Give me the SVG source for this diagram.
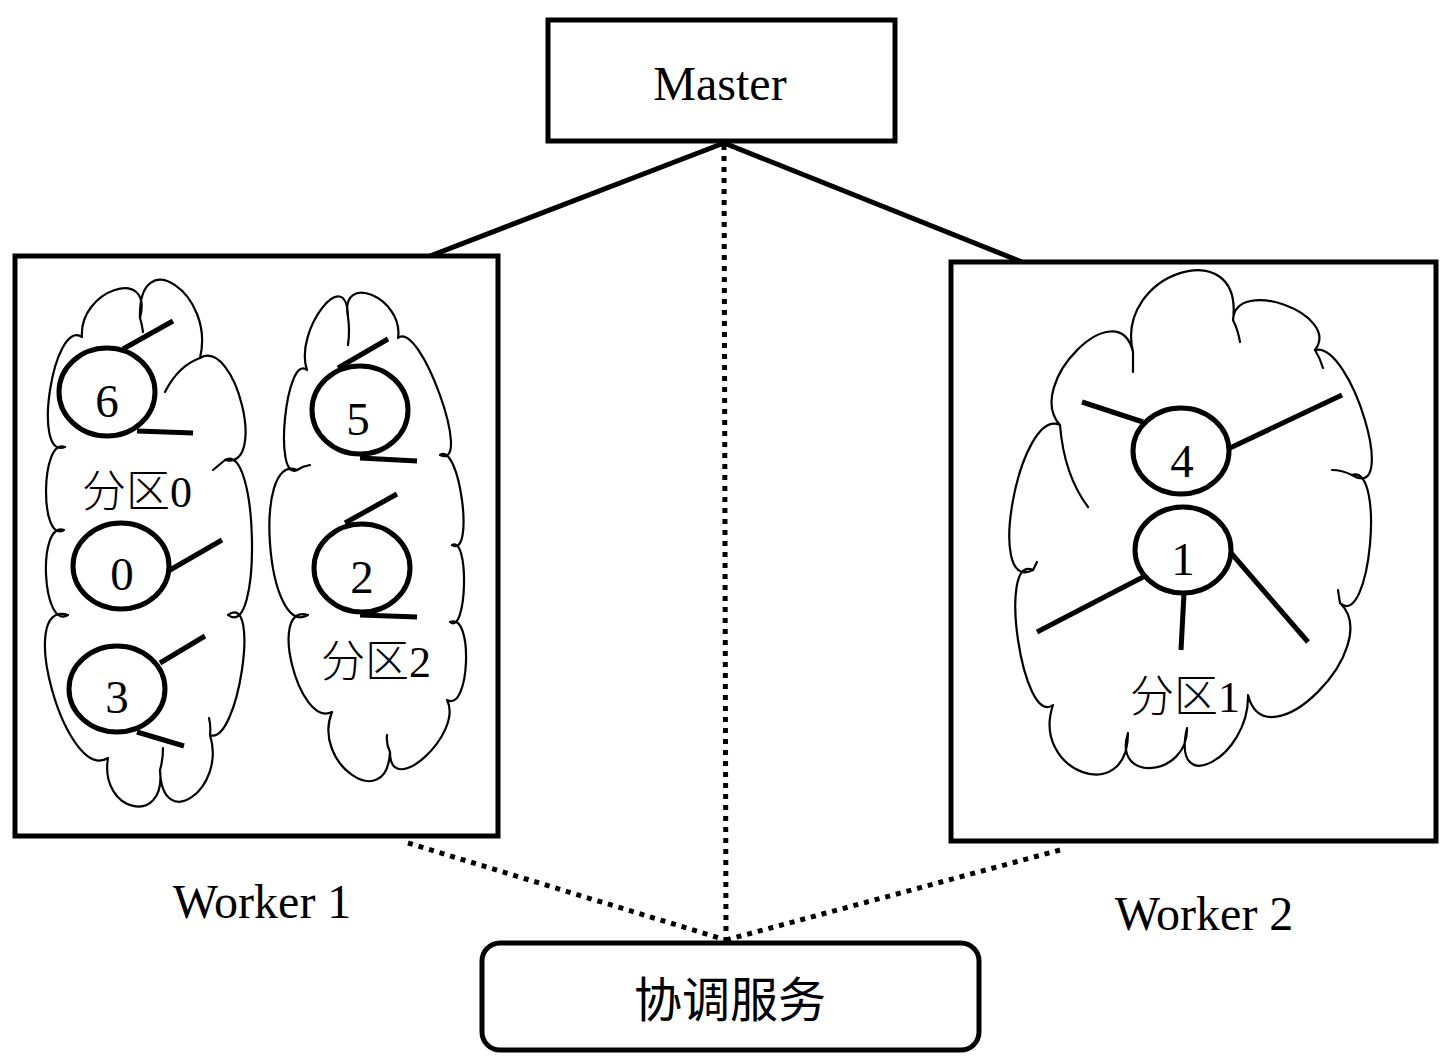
<svg xmlns="http://www.w3.org/2000/svg" width="1445" height="1057" viewBox="0 0 1445 1057">
<style>
.box{fill:#fff;stroke:#000;stroke-width:5}
.cloud{fill:#fff;stroke:#000;stroke-width:2.2;stroke-linejoin:round}
.tail{fill:none;stroke:#000;stroke-width:2.2;stroke-linecap:round}
.v{fill:#fff;stroke:#000;stroke-width:5}
.e{stroke:#000;stroke-width:5;fill:none}
.solid{stroke:#000;stroke-width:5;fill:none}
.dot{stroke:#000;stroke-width:5;fill:none;stroke-dasharray:5 6}
.t{font-family:"Liberation Serif","Noto Sans CJK SC",serif;fill:#000;text-anchor:middle}
.num{font-size:47px}
.lbl{font-size:44px;font-weight:300}
.big{font-size:48px}
.cjk{font-family:"Noto Sans CJK SC",sans-serif;font-size:48px;fill:#000;text-anchor:middle}
</style>
<rect width="1445" height="1057" fill="#fff"/>
<g id="connectors">
<line class="solid" x1="724" y1="143" x2="430" y2="256"/>
<line class="solid" x1="724" y1="143" x2="1022" y2="262"/>
<line class="dot" x1="724" y1="145" x2="726" y2="940"/>
<line class="dot" x1="408" y1="843" x2="726" y2="940"/>
<line class="dot" x1="1060" y1="850" x2="726" y2="940"/>
</g>
<g id="master">
<rect class="box" x="548" y="20" width="347" height="121"/>
<text class="t big" x="720" y="100">Master</text>
</g>
<g id="worker1">
<rect class="box" x="15" y="256" width="483" height="580"/>
<text class="t big" x="262" y="918">Worker 1</text>
<g id="partition0">
<path class="cloud" d="M 82 337 C 78.3 289.9 153.7 265.1 140 318 C 137.7 241.5 215.7 293.5 200 358 C 235.5 337.4 268 470 225 460 C 258.5 440 262.4 641.6 228 615 C 261.3 590.3 237.9 746.3 210 735 C 226.8 789 161.8 834.5 160 770 C 166.5 827.7 98.9 812.1 108 758 C 66.1 784.2 14.1 598.2 68 615 C 42 631 36.8 520.6 64 530 C 39.25 544.45 40.55 436.55 65 447 C 31.15 460.8 53.25 317.8 82 337 Z"/>
<path class="tail" d="M 200 358 Q 178 366 165 392 M 160 770 Q 163 760 163 748 M 225 460 Q 219 465 213 470 M 210 735 Q 211 726 209 718 M 140 318 Q 142 324 143 332"/>
<text class="t lbl" x="137" y="507">分区0</text>
</g>
<g id="partition2">
<path class="cloud" d="M 307 370 C 293.55 330.75 346.85 261.85 348 317 C 339.2 270.65 404.2 297.95 398 338 C 419.6 318.45 474.2 470.55 440 455 C 459.5 441.5 475.1 558.5 452 545 C 469.6 535.45 467 635.55 450 622 C 473.75 611.6 469.85 713 447 700 C 464.15 733.4 390.05 801 390 752 C 386.7 815.2 311.3 763.2 332 712 C 298.4 728.55 267.2 602.45 308 615 C 266.45 640.05 252.15 451.55 297 470 C 272.9 482.3 285.9 352.3 307 370 Z"/>
<path class="tail" d="M 348 317 Q 350 330 348 345 M 390 752 Q 386 744 387 735 M 297 470 Q 303 466 310 465"/>
<text class="t lbl" x="376" y="677">分区2</text>
</g>
<g id="v6">
<line class="e" x1="123" y1="349" x2="173" y2="321"/>
<line class="e" x1="137" y1="431" x2="193" y2="433"/>
<ellipse class="v" cx="107" cy="392" rx="48" ry="44"/>
<text class="t num" x="107" y="417">6</text>
</g>
<g id="v0">
<line class="e" x1="170" y1="570" x2="222" y2="540"/>
<ellipse class="v" cx="121" cy="566" rx="48" ry="43"/>
<text class="t num" x="122" y="590">0</text>
</g>
<g id="v3">
<line class="e" x1="160" y1="663" x2="205" y2="636"/>
<line class="e" x1="137" y1="732" x2="184" y2="746"/>
<ellipse class="v" cx="117" cy="689" rx="48" ry="43"/>
<text class="t num" x="117" y="713">3</text>
</g>
<g id="v5">
<line class="e" x1="338" y1="368" x2="388" y2="339"/>
<line class="e" x1="360" y1="458" x2="417" y2="461"/>
<ellipse class="v" cx="360" cy="410" rx="48" ry="44"/>
<text class="t num" x="358" y="435">5</text>
</g>
<g id="v2">
<line class="e" x1="345" y1="523" x2="397" y2="494"/>
<line class="e" x1="360" y1="615" x2="417" y2="617"/>
<ellipse class="v" cx="362" cy="568" rx="48" ry="44"/>
<text class="t num" x="362" y="593">2</text>
</g>
</g>
<g id="worker2">
<rect class="box" x="951" y="262" width="485" height="579"/>
<text class="t big" x="1204" y="930">Worker 2</text>
<g id="partition1">
<path class="cloud" d="M 1133 352 C 1114 273 1244 231.4 1233 320 C 1235.3 275.6 1341.9 314.6 1315 350 C 1351.35 341.25 1399.45 503.75 1352 475 C 1385.7 463.8 1370.1 630.2 1340 603 C 1385.7 646.4 1266.1 766 1248 695 C 1249.85 757.25 1170.55 800.15 1187 728 C 1188.55 777.15 1111.85 783.65 1128 733 C 1127.95 807.7 1030.45 771.3 1053 705 C 1022.7 728.55 996.7 553.05 1033 570 C 984.35 595.05 1019.45 406.55 1060 425 C 1023.15 384.75 1118.05 289.85 1133 352 Z"/>
<path class="tail" d="M 1133 352 L 1133 372 M 1233 320 Q 1238 330 1240 342 M 1315 350 Q 1320 358 1323 368 M 1352 475 Q 1342 470 1332 470 M 1060 425 Q 1064 475 1088 507 M 1033 570 Q 1035 566 1037 562 M 1340 603 Q 1339 597 1338 590"/>
<text class="t lbl" x="1185" y="712">分区1</text>
</g>
<g id="v4">
<line class="e" x1="1082" y1="402" x2="1143" y2="422"/>
<line class="e" x1="1230" y1="448" x2="1342" y2="395"/>
<ellipse class="v" cx="1181" cy="451" rx="48" ry="43"/>
<text class="t num" x="1182" y="477">4</text>
</g>
<g id="v1">
<line class="e" x1="1143" y1="577" x2="1037" y2="632"/>
<line class="e" x1="1184" y1="593" x2="1181" y2="650"/>
<line class="e" x1="1231" y1="553" x2="1308" y2="642"/>
<ellipse class="v" cx="1183" cy="550" rx="48" ry="43"/>
<text class="t num" x="1183" y="575">1</text>
</g>
</g>
<g id="coordination">
<rect class="box" x="482" y="943" width="497" height="107" rx="18" ry="18"/>
<text class="cjk" x="730" y="1017">协调服务</text>
</g>
</svg>
